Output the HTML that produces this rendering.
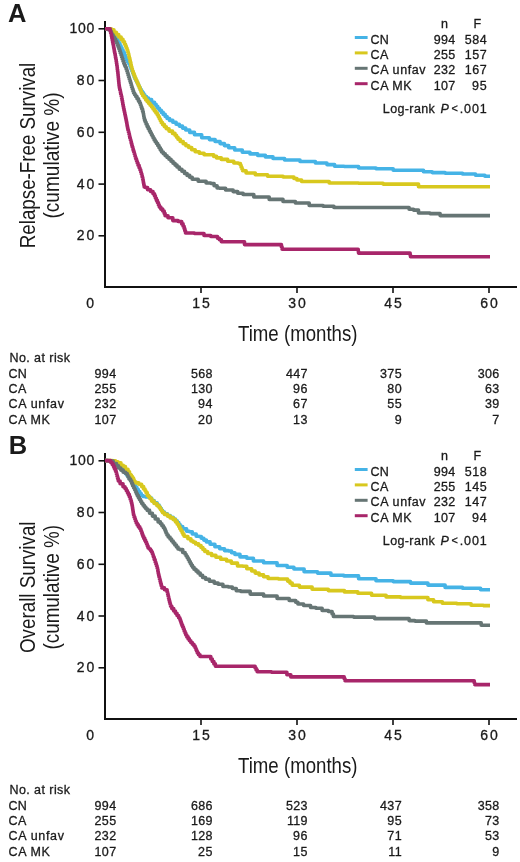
<!DOCTYPE html>
<html><head><meta charset="utf-8"><title>Kaplan-Meier</title>
<style>
html,body{margin:0;padding:0;background:#fff;}
body{width:520px;height:862px;overflow:hidden;font-family:"Liberation Sans",sans-serif;}
svg{display:block;}
svg text{font-family:"Liberation Sans",sans-serif;fill:#1a1a1a;}
svg{will-change:transform;}
svg text.s{stroke:#1a1a1a;stroke-width:0.3px;}
</style></head><body>
<svg width="520" height="862" viewBox="0 0 520 862">
<rect width="520" height="862" fill="#fff"/>
<text x="8.0" y="22.0" font-size="25.5" font-weight="bold">A</text>
<path d="M105,21 V287 H517" fill="none" stroke="#111" stroke-width="2" transform="translate(0,0.0)"/>
<line x1="98.5" y1="28.8" x2="105" y2="28.8" stroke="#111" stroke-width="1.6"/>
<text x="94.3" y="33.4" font-size="14.0" text-anchor="end" textLength="24.8" lengthAdjust="spacing" class="s">100</text>
<line x1="98.5" y1="80.5" x2="105" y2="80.5" stroke="#111" stroke-width="1.6"/>
<text x="94.3" y="85.1" font-size="14.0" text-anchor="end" textLength="17.6" lengthAdjust="spacing" class="s">80</text>
<line x1="98.5" y1="132.3" x2="105" y2="132.3" stroke="#111" stroke-width="1.6"/>
<text x="94.3" y="136.9" font-size="14.0" text-anchor="end" textLength="17.6" lengthAdjust="spacing" class="s">60</text>
<line x1="98.5" y1="184.1" x2="105" y2="184.1" stroke="#111" stroke-width="1.6"/>
<text x="94.3" y="188.7" font-size="14.0" text-anchor="end" textLength="17.6" lengthAdjust="spacing" class="s">40</text>
<line x1="98.5" y1="235.8" x2="105" y2="235.8" stroke="#111" stroke-width="1.6"/>
<text x="94.3" y="240.4" font-size="14.0" text-anchor="end" textLength="17.6" lengthAdjust="spacing" class="s">20</text>
<text x="94.0" y="308.2" font-size="14.0" text-anchor="end" class="s">0</text>
<line x1="201.0" y1="287.0" x2="201.0" y2="293.0" stroke="#111" stroke-width="1.6"/>
<text x="201.0" y="308.2" font-size="14.0" text-anchor="middle" textLength="17.4" lengthAdjust="spacing" class="s">15</text>
<line x1="297.0" y1="287.0" x2="297.0" y2="293.0" stroke="#111" stroke-width="1.6"/>
<text x="297.0" y="308.2" font-size="14.0" text-anchor="middle" textLength="17.4" lengthAdjust="spacing" class="s">30</text>
<line x1="393.0" y1="287.0" x2="393.0" y2="293.0" stroke="#111" stroke-width="1.6"/>
<text x="393.0" y="308.2" font-size="14.0" text-anchor="middle" textLength="17.4" lengthAdjust="spacing" class="s">45</text>
<line x1="489.0" y1="287.0" x2="489.0" y2="293.0" stroke="#111" stroke-width="1.6"/>
<text x="489.0" y="308.2" font-size="14.0" text-anchor="middle" textLength="17.4" lengthAdjust="spacing" class="s">60</text>
<text x="238.0" y="341.0" font-size="21.5" textLength="119.5" lengthAdjust="spacingAndGlyphs">Time (months)</text>
<text transform="translate(35.3,248.2) rotate(-90)" font-size="21.5" textLength="185.5" lengthAdjust="spacingAndGlyphs">Relapse-Free Survival</text>
<text transform="translate(58.8,218.6) rotate(-90)" font-size="21.5" textLength="126.3" lengthAdjust="spacingAndGlyphs">(cumulative %)</text>
<polyline points="105.0,28.8 110.0,29.0 110.8,29.0 110.8,31.0 112.2,31.0 112.2,33.0 113.0,33.0 113.9,33.0 113.9,35.5 115.6,35.5 115.6,38.0 116.5,38.0 117.0,38.0 117.0,39.8 118.0,39.8 118.0,41.7 119.0,41.7 119.0,43.5 119.5,43.5 120.0,43.5 120.0,45.7 121.0,45.7 121.0,47.8 122.0,47.8 122.0,50.0 122.5,50.0 123.1,50.0 123.1,52.5 124.4,52.5 124.4,55.0 125.0,55.0 125.5,55.0 125.5,57.5 126.5,57.5 126.5,60.0 127.0,60.0 127.6,60.0 127.6,62.0 128.9,62.0 128.9,64.0 129.5,64.0 130.0,64.0 130.0,66.5 131.0,66.5 131.0,69.0 131.5,69.0 131.9,69.0 131.9,71.0 132.6,71.0 132.6,73.0 133.4,73.0 133.4,75.0 134.1,75.0 134.1,77.0 134.5,77.0 134.9,77.0 134.9,78.8 135.8,78.8 135.8,80.5 136.7,80.5 136.7,82.2 137.6,82.2 137.6,84.0 138.0,84.0 138.4,84.0 138.4,85.8 139.3,85.8 139.3,87.5 140.2,87.5 140.2,89.2 141.1,89.2 141.1,91.0 141.5,91.0 142.2,91.0 142.2,92.8 143.5,92.8 143.5,94.7 144.8,94.7 144.8,96.5 145.5,96.5 146.5,96.5 146.5,98.0 148.5,98.0 148.5,99.5 149.5,99.5 151.6,99.5 151.6,102.3 153.7,102.3 154.5,102.3 154.5,104.3 156.1,104.3 156.1,106.3 157.7,106.3 157.7,108.3 158.5,108.3 159.4,108.3 159.4,110.3 161.3,110.3 161.3,112.4 163.2,112.4 163.2,114.4 165.2,114.4 165.2,116.5 167.1,116.5 167.1,118.5 168.0,118.5 169.6,118.5 169.6,120.4 172.8,120.4 172.8,122.3 176.1,122.3 176.1,124.2 177.7,124.2 179.3,124.2 179.3,126.1 182.5,126.1 182.5,128.1 185.7,128.1 185.7,130.0 187.3,130.0 189.7,130.0 189.7,132.4 194.5,132.4 194.5,134.8 196.9,134.8 201.7,134.8 201.7,137.7 206.5,137.7 209.4,137.7 209.4,139.6 215.1,139.6 215.1,141.5 218.0,141.5 220.1,141.5 220.1,143.6 224.4,143.6 224.4,145.6 228.7,145.6 228.7,147.7 230.8,147.7 234.7,147.7 234.7,150.0 242.3,150.0 242.3,152.3 246.2,152.3 250.0,152.3 250.0,153.9 257.7,153.9 257.7,155.4 261.5,155.4 265.4,155.4 265.4,156.9 273.0,156.9 273.0,158.5 276.9,158.5 284.6,158.5 284.6,160.0 292.3,160.0 300.0,160.0 300.0,161.5 307.7,161.5 315.4,161.5 315.4,163.0 323.0,163.0 326.9,163.0 326.9,164.6 334.6,164.6 334.6,166.2 338.5,166.2 344.2,166.2 344.2,166.5 350.0,166.5 358.6,166.5 358.6,168.0 367.3,168.0 376.0,168.0 376.0,168.8 384.6,168.8 393.2,168.8 393.2,170.3 401.9,170.3 419.2,170.3 423.5,170.3 423.5,171.7 427.9,171.7 432.2,171.7 432.2,172.6 436.5,172.6 445.1,172.6 445.1,173.2 453.8,173.2 462.5,173.2 462.5,174.0 471.1,174.0 475.5,174.0 475.5,175.2 479.8,175.2 484.9,175.2 484.9,176.3 490.0,176.3" fill="none" stroke="#45b3e6" stroke-width="3.6" stroke-linejoin="round" stroke-linecap="butt"/>
<polyline points="105.0,28.8 110.0,28.8 111.3,28.8 111.3,29.8 112.7,29.8 113.9,29.8 113.9,32.2 116.3,32.2 116.3,34.6 117.5,34.6 118.7,34.6 118.7,37.0 121.1,37.0 121.1,39.4 122.3,39.4 123.0,39.4 123.0,41.8 124.5,41.8 124.5,44.2 125.2,44.2 125.5,44.2 125.5,46.1 126.2,46.1 126.2,48.0 127.0,48.0 127.0,50.0 127.7,50.0 127.7,51.9 128.0,51.9 128.2,51.9 128.2,53.9 128.8,53.9 128.8,56.0 129.2,56.0 129.2,58.0 129.8,58.0 129.8,60.0 130.0,60.0 130.2,60.0 130.2,62.2 130.8,62.2 130.8,64.5 131.2,64.5 131.2,66.8 131.8,66.8 131.8,69.0 132.0,69.0 132.4,69.0 132.4,71.2 133.2,71.2 133.2,73.5 134.1,73.5 134.1,75.8 134.9,75.8 134.9,78.0 135.3,78.0 135.8,78.0 135.8,80.0 136.7,80.0 136.7,82.0 137.6,82.0 137.6,84.0 138.5,84.0 138.5,86.0 139.0,86.0 139.4,86.0 139.4,87.9 140.1,87.9 140.1,89.8 140.8,89.8 140.8,91.6 141.5,91.6 141.5,93.5 141.9,93.5 142.7,93.5 142.7,95.7 144.2,95.7 144.2,97.8 145.7,97.8 145.7,100.0 146.5,100.0 147.2,100.0 147.2,101.8 148.7,101.8 148.7,103.5 150.1,103.5 150.1,105.2 151.6,105.2 151.6,107.0 152.3,107.0 153.0,107.0 153.0,109.0 154.4,109.0 154.4,111.0 155.9,111.0 155.9,113.0 157.3,113.0 157.3,115.0 158.0,115.0 158.4,115.0 158.4,116.9 159.3,116.9 159.3,118.8 160.2,118.8 160.2,120.6 161.1,120.6 161.1,122.5 161.5,122.5 162.5,122.5 162.5,124.6 164.4,124.6 164.4,126.7 166.3,126.7 166.3,128.8 167.3,128.8 169.0,128.8 169.0,131.1 172.5,131.1 172.5,133.4 174.2,133.4 175.0,133.4 175.0,135.3 176.5,135.3 176.5,137.3 178.0,137.3 178.0,139.2 178.8,139.2 180.2,139.2 180.2,141.5 183.2,141.5 183.2,143.8 184.6,143.8 185.9,143.8 185.9,145.7 188.7,145.7 188.7,147.5 190.0,147.5 191.7,147.5 191.7,149.7 195.2,149.7 195.2,151.8 196.9,151.8 199.3,151.8 199.3,153.3 204.1,153.3 204.1,154.8 206.5,154.8 212.3,154.8 213.7,154.8 213.7,156.4 216.6,156.4 216.6,157.9 218.0,157.9 221.3,157.9 221.3,159.4 224.6,159.4 227.7,159.4 227.7,161.2 233.8,161.2 233.8,163.0 236.9,163.0 238.4,163.0 238.4,163.5 240.0,163.5 240.4,163.5 240.4,165.3 241.1,165.3 241.1,167.2 241.9,167.2 241.9,169.0 242.6,169.0 242.6,170.8 243.0,170.8 246.1,170.8 246.1,173.0 249.2,173.0 255.3,173.0 255.3,174.8 261.5,174.8 267.6,174.8 267.6,176.3 273.8,176.3 283.1,176.3 283.1,177.0 292.3,177.0 293.9,177.0 293.9,178.5 296.9,178.5 296.9,180.0 298.5,180.0 301.6,180.0 301.6,181.5 304.6,181.5 323.0,181.5 329.2,181.5 329.2,183.0 335.4,183.0 358.5,183.0 358.5,183.3 381.7,183.3 383.1,183.3 383.1,184.1 384.6,184.1 417.8,184.1 418.5,184.1 418.5,186.7 419.2,186.7 490.0,186.7" fill="none" stroke="#d8c81e" stroke-width="3.6" stroke-linejoin="round" stroke-linecap="butt"/>
<polyline points="105.0,28.8 107.5,28.8 107.5,29.5 110.0,29.5 110.4,29.5 110.4,31.2 111.1,31.2 111.1,32.9 111.8,32.9 111.8,34.6 112.2,34.6 112.9,34.6 112.9,36.8 114.2,36.8 114.2,39.1 115.6,39.1 115.6,41.3 116.3,41.3 116.7,41.3 116.7,43.2 117.4,43.2 117.4,45.1 118.2,45.1 118.2,47.1 118.9,47.1 118.9,49.0 119.3,49.0 119.6,49.0 119.6,50.9 120.2,50.9 120.2,52.9 120.9,52.9 120.9,54.8 121.5,54.8 121.5,56.7 121.8,56.7 122.2,56.7 122.2,59.0 123.0,59.0 123.0,61.2 123.8,61.2 123.8,63.5 124.2,63.5 124.6,63.5 124.6,65.4 125.4,65.4 125.4,67.3 126.2,67.3 126.2,69.2 126.6,69.2 126.9,69.2 126.9,71.2 127.5,71.2 127.5,73.2 128.1,73.2 128.1,75.2 128.7,75.2 128.7,77.2 129.3,77.2 129.3,79.2 129.6,79.2 129.9,79.2 129.9,81.1 130.5,81.1 130.5,83.0 131.1,83.0 131.1,85.0 131.6,85.0 131.6,86.9 132.2,86.9 132.2,88.8 132.5,88.8 132.9,88.8 132.9,90.9 133.6,90.9 133.6,93.0 134.0,93.0 134.6,93.0 134.6,94.8 135.7,94.8 135.7,96.5 136.3,96.5 137.0,96.5 137.0,98.8 138.5,98.8 138.5,101.2 139.2,101.2 139.7,101.2 139.7,103.3 140.2,103.3 140.5,103.3 140.5,105.2 141.1,105.2 141.1,107.1 141.8,107.1 141.8,109.0 142.1,109.0 142.6,109.0 142.6,111.5 143.1,111.5 143.2,111.5 143.2,113.2 143.5,113.2 143.5,115.0 143.8,115.0 143.8,116.8 144.1,116.8 144.1,118.5 144.2,118.5 144.6,118.5 144.6,120.4 145.3,120.4 145.3,122.3 146.1,122.3 146.1,124.2 146.5,124.2 147.1,124.2 147.1,126.5 148.2,126.5 148.2,128.8 149.4,128.8 149.4,131.1 150.0,131.1 150.4,131.1 150.4,132.8 151.3,132.8 151.3,134.6 152.2,134.6 152.2,136.3 153.1,136.3 153.1,138.1 153.5,138.1 154.1,138.1 154.1,139.9 155.2,139.9 155.2,141.7 156.4,141.7 156.4,143.5 157.0,143.5 157.7,143.5 157.7,145.6 159.0,145.6 159.0,147.8 160.3,147.8 160.3,149.9 161.6,149.9 161.6,152.0 162.3,152.0 163.3,152.0 163.3,153.8 165.2,153.8 165.2,155.7 167.1,155.7 167.1,157.5 169.0,157.5 169.0,159.3 170.0,159.3 171.0,159.3 171.0,161.2 173.0,161.2 173.0,163.2 175.0,163.2 175.0,165.1 177.0,165.1 177.0,167.0 178.0,167.0 179.3,167.0 179.3,169.2 181.9,169.2 181.9,171.3 184.5,171.3 184.5,173.5 185.8,173.5 187.1,173.5 187.1,175.4 189.7,175.4 189.7,177.3 192.2,177.3 192.2,179.2 193.5,179.2 198.2,179.2 198.2,181.2 203.0,181.2 206.1,181.2 206.1,183.0 209.2,183.0 210.9,183.0 210.9,183.5 212.7,183.5 214.1,183.5 214.1,185.8 217.1,185.8 217.1,188.0 218.5,188.0 219.4,188.0 219.4,188.3 220.4,188.3 225.6,188.3 225.6,190.0 230.8,190.0 233.1,190.0 233.1,191.6 237.7,191.6 237.7,193.2 240.0,193.2 243.1,193.2 243.1,194.5 246.2,194.5 253.8,194.5 253.8,197.0 261.5,197.0 269.2,197.0 269.2,199.4 276.9,199.4 283.0,199.4 283.0,201.5 289.2,201.5 295.4,201.5 295.4,203.0 301.5,203.0 309.2,203.0 309.2,205.5 317.0,205.5 323.1,205.5 323.1,206.2 329.2,206.2 333.9,206.2 333.9,207.5 338.5,207.5 407.7,207.5 409.1,207.5 409.1,209.2 410.6,209.2 413.5,209.2 413.5,210.1 416.3,210.1 418.5,210.1 418.5,213.0 420.7,213.0 430.0,213.0 430.0,213.6 439.4,213.6 440.1,213.6 440.1,215.6 440.9,215.6 490.0,215.6" fill="none" stroke="#667574" stroke-width="3.6" stroke-linejoin="round" stroke-linecap="butt"/>
<polyline points="105.0,28.8 109.8,28.8 110.0,28.8 110.0,30.8 110.3,30.8 110.5,30.8 110.5,32.7 111.0,32.7 111.0,34.6 111.5,34.6 111.5,36.5 111.7,36.5 111.9,36.5 111.9,38.4 112.3,38.4 112.3,40.4 112.6,40.4 112.6,42.3 113.0,42.3 113.0,44.2 113.2,44.2 113.4,44.2 113.4,46.1 113.7,46.1 113.7,48.0 114.1,48.0 114.1,50.0 114.4,50.0 114.4,51.9 114.6,51.9 114.8,51.9 114.8,53.8 115.2,53.8 115.2,55.8 115.5,55.8 115.5,57.7 115.9,57.7 115.9,59.6 116.1,59.6 116.2,59.6 116.2,61.5 116.5,61.5 116.5,63.5 116.8,63.5 116.8,65.4 117.1,65.4 117.1,67.3 117.2,67.3 117.3,67.3 117.3,69.5 117.6,69.5 117.6,71.8 117.9,71.8 117.9,74.0 118.0,74.0 118.1,74.0 118.1,76.0 118.3,76.0 118.3,78.0 118.5,78.0 118.5,80.0 118.7,80.0 118.7,82.0 118.9,82.0 118.9,84.0 119.1,84.0 119.1,86.0 119.2,86.0 119.4,86.0 119.4,88.0 119.8,88.0 119.8,90.0 120.3,90.0 120.3,92.0 120.5,92.0 120.7,92.0 120.7,94.2 121.2,94.2 121.2,96.3 121.7,96.3 121.7,98.5 121.9,98.5 122.1,98.5 122.1,100.5 122.5,100.5 122.5,102.5 122.8,102.5 122.8,104.5 123.2,104.5 123.2,106.5 123.6,106.5 123.6,108.5 123.8,108.5 124.0,108.5 124.0,110.4 124.4,110.4 124.4,112.3 124.8,112.3 124.8,114.2 125.2,114.2 125.2,116.1 125.6,116.1 125.6,118.0 125.8,118.0 126.0,118.0 126.0,120.0 126.4,120.0 126.4,122.0 126.8,122.0 126.8,124.0 127.1,124.0 127.1,126.0 127.5,126.0 127.5,128.0 127.7,128.0 127.9,128.0 127.9,130.0 128.4,130.0 128.4,132.0 128.9,132.0 128.9,134.0 129.4,134.0 129.4,136.0 129.6,136.0 129.8,136.0 129.8,137.9 130.3,137.9 130.3,139.8 130.8,139.8 130.8,141.6 131.3,141.6 131.3,143.5 131.5,143.5 131.8,143.5 131.8,145.2 132.2,145.2 132.2,147.0 132.8,147.0 132.8,148.8 133.2,148.8 133.2,150.5 133.5,150.5 133.8,150.5 133.8,152.2 134.3,152.2 134.3,154.0 134.8,154.0 134.8,155.8 135.3,155.8 135.3,157.5 135.6,157.5 135.9,157.5 135.9,159.3 136.6,159.3 136.6,161.2 137.2,161.2 137.2,163.0 137.5,163.0 138.0,163.0 138.0,165.3 139.1,165.3 139.1,167.7 139.6,167.7 139.9,167.7 139.9,169.8 140.7,169.8 140.7,172.0 141.0,172.0 141.2,172.0 141.2,173.8 141.8,173.8 141.8,175.5 142.2,175.5 142.2,177.3 142.5,177.3 142.7,177.3 142.7,179.2 143.1,179.2 143.1,181.1 143.4,181.1 143.4,183.1 143.8,183.1 143.8,185.0 144.2,185.0 144.2,186.9 144.4,186.9 145.2,186.9 145.2,187.5 146.0,187.5 147.6,187.5 147.6,189.8 149.2,189.8 150.6,189.8 150.6,191.5 152.0,191.5 153.0,191.5 153.0,193.7 154.0,193.7 154.5,193.7 154.5,195.9 155.4,195.9 155.4,198.2 156.4,198.2 156.4,200.4 156.9,200.4 157.4,200.4 157.4,202.6 158.4,202.6 158.4,204.9 159.3,204.9 159.3,207.1 159.8,207.1 160.8,207.1 160.8,209.1 162.7,209.1 162.7,211.0 163.7,211.0 164.2,211.0 164.2,213.4 165.1,213.4 165.1,215.8 165.6,215.8 168.0,215.8 168.0,217.7 170.4,217.7 172.8,217.7 172.8,220.6 175.2,220.6 178.1,220.6 178.1,221.5 181.0,221.5 181.7,221.5 181.7,223.9 183.1,223.9 183.1,226.3 183.8,226.3 184.1,226.3 184.1,228.5 184.8,228.5 184.8,230.8 185.5,230.8 185.5,233.0 185.8,233.0 194.4,233.0 194.4,233.5 203.0,233.5 204.0,233.5 204.0,235.5 205.0,235.5 210.8,235.5 210.8,236.5 216.5,236.5 217.5,236.5 217.5,238.2 219.4,238.2 219.4,239.8 220.4,239.8 221.4,239.8 221.4,241.7 222.3,241.7 244.0,241.7 244.5,241.7 244.5,244.6 245.0,244.6 281.0,244.6 281.4,244.6 281.4,246.9 282.1,246.9 282.1,249.2 282.5,249.2 358.0,249.2 358.2,249.2 358.2,251.1 358.5,251.1 358.5,253.1 358.7,253.1 410.0,253.1 410.1,253.1 410.1,254.9 410.5,254.9 410.5,256.8 410.6,256.8 490.0,256.8" fill="none" stroke="#a8266a" stroke-width="3.6" stroke-linejoin="round" stroke-linecap="butt"/>
<text x="441.0" y="28.0" font-size="12.5" class="s">n</text>
<text x="473.5" y="28.0" font-size="12.5" class="s">F</text>
<line x1="354.8" y1="37.5" x2="367.6" y2="37.5" stroke="#45b3e6" stroke-width="3"/>
<text x="370.6" y="43.5" font-size="12.5" textLength="18.1" lengthAdjust="spacing" class="s">CN</text>
<text x="455.3" y="43.5" font-size="12.5" text-anchor="end" textLength="21.5" lengthAdjust="spacing" class="s">994</text>
<text x="486.8" y="43.5" font-size="12.5" text-anchor="end" textLength="22.1" lengthAdjust="spacing" class="s">584</text>
<line x1="354.8" y1="52.9" x2="367.6" y2="52.9" stroke="#d8c81e" stroke-width="3"/>
<text x="370.6" y="58.9" font-size="12.5" textLength="17.7" lengthAdjust="spacing" class="s">CA</text>
<text x="455.3" y="58.9" font-size="12.5" text-anchor="end" textLength="21.5" lengthAdjust="spacing" class="s">255</text>
<text x="486.8" y="58.9" font-size="12.5" text-anchor="end" textLength="22.1" lengthAdjust="spacing" class="s">157</text>
<line x1="354.8" y1="68.3" x2="367.6" y2="68.3" stroke="#667574" stroke-width="3"/>
<text x="370.6" y="74.3" font-size="12.5" textLength="55.0" lengthAdjust="spacing" class="s">CA unfav</text>
<text x="455.3" y="74.3" font-size="12.5" text-anchor="end" textLength="21.5" lengthAdjust="spacing" class="s">232</text>
<text x="486.8" y="74.3" font-size="12.5" text-anchor="end" textLength="22.1" lengthAdjust="spacing" class="s">167</text>
<line x1="354.8" y1="83.7" x2="367.6" y2="83.7" stroke="#a8266a" stroke-width="3"/>
<text x="370.6" y="89.7" font-size="12.5" textLength="41.0" lengthAdjust="spacing" class="s">CA MK</text>
<text x="455.3" y="89.7" font-size="12.5" text-anchor="end" textLength="21.5" lengthAdjust="spacing" class="s">107</text>
<text x="486.8" y="89.7" font-size="12.5" text-anchor="end" textLength="14.7" lengthAdjust="spacing" class="s">95</text>
<text x="382.8" y="112.5" font-size="12.5" textLength="52.0" lengthAdjust="spacing" class="s">Log-rank</text>
<text class="s" x="440.6" y="112.5" font-size="12.5" font-style="italic">P</text>
<text x="451.6" y="112.2" font-size="10.8" class="s">&lt;</text>
<text x="486.6" y="112.5" font-size="12.5" text-anchor="end" textLength="26.8" lengthAdjust="spacing" class="s">.001</text>
<text x="9.5" y="361.8" font-size="12.5" textLength="60.5" lengthAdjust="spacing" class="s">No. at risk</text>
<text x="8.6" y="377.6" font-size="12.5" textLength="18.1" lengthAdjust="spacing" class="s">CN</text>
<text x="116.1" y="377.6" font-size="12.5" text-anchor="end" textLength="21.5" lengthAdjust="spacing" class="s">994</text>
<text x="212.4" y="377.6" font-size="12.5" text-anchor="end" textLength="21.5" lengthAdjust="spacing" class="s">568</text>
<text x="307.4" y="377.6" font-size="12.5" text-anchor="end" textLength="21.5" lengthAdjust="spacing" class="s">447</text>
<text x="401.6" y="377.6" font-size="12.5" text-anchor="end" textLength="21.5" lengthAdjust="spacing" class="s">375</text>
<text x="499.3" y="377.6" font-size="12.5" text-anchor="end" textLength="21.5" lengthAdjust="spacing" class="s">306</text>
<text x="8.6" y="393.0" font-size="12.5" textLength="17.8" lengthAdjust="spacing" class="s">CA</text>
<text x="116.1" y="393.0" font-size="12.5" text-anchor="end" textLength="21.5" lengthAdjust="spacing" class="s">255</text>
<text x="212.4" y="393.0" font-size="12.5" text-anchor="end" textLength="21.5" lengthAdjust="spacing" class="s">130</text>
<text x="307.4" y="393.0" font-size="12.5" text-anchor="end" textLength="14.3" lengthAdjust="spacing" class="s">96</text>
<text x="401.6" y="393.0" font-size="12.5" text-anchor="end" textLength="14.3" lengthAdjust="spacing" class="s">80</text>
<text x="499.3" y="393.0" font-size="12.5" text-anchor="end" textLength="14.3" lengthAdjust="spacing" class="s">63</text>
<text x="8.6" y="408.4" font-size="12.5" textLength="55.3" lengthAdjust="spacing" class="s">CA unfav</text>
<text x="116.1" y="408.4" font-size="12.5" text-anchor="end" textLength="21.5" lengthAdjust="spacing" class="s">232</text>
<text x="212.4" y="408.4" font-size="12.5" text-anchor="end" textLength="14.3" lengthAdjust="spacing" class="s">94</text>
<text x="307.4" y="408.4" font-size="12.5" text-anchor="end" textLength="14.3" lengthAdjust="spacing" class="s">67</text>
<text x="401.6" y="408.4" font-size="12.5" text-anchor="end" textLength="14.3" lengthAdjust="spacing" class="s">55</text>
<text x="499.3" y="408.4" font-size="12.5" text-anchor="end" textLength="14.3" lengthAdjust="spacing" class="s">39</text>
<text x="8.6" y="423.8" font-size="12.5" textLength="41.2" lengthAdjust="spacing" class="s">CA MK</text>
<text x="116.1" y="423.8" font-size="12.5" text-anchor="end" textLength="21.5" lengthAdjust="spacing" class="s">107</text>
<text x="212.4" y="423.8" font-size="12.5" text-anchor="end" textLength="14.3" lengthAdjust="spacing" class="s">20</text>
<text x="307.4" y="423.8" font-size="12.5" text-anchor="end" textLength="14.3" lengthAdjust="spacing" class="s">13</text>
<text x="401.6" y="423.8" font-size="12.5" text-anchor="end" textLength="7.2" lengthAdjust="spacing" class="s">9</text>
<text x="499.3" y="423.8" font-size="12.5" text-anchor="end" textLength="7.2" lengthAdjust="spacing" class="s">7</text>
<text x="8.8" y="453.6" font-size="25.5" font-weight="bold">B</text>
<path d="M105,21 V287 H517" fill="none" stroke="#111" stroke-width="2" transform="translate(0,432.0)"/>
<line x1="98.5" y1="460.8" x2="105" y2="460.8" stroke="#111" stroke-width="1.6"/>
<text x="94.3" y="465.4" font-size="14.0" text-anchor="end" textLength="24.8" lengthAdjust="spacing" class="s">100</text>
<line x1="98.5" y1="512.5" x2="105" y2="512.5" stroke="#111" stroke-width="1.6"/>
<text x="94.3" y="517.1" font-size="14.0" text-anchor="end" textLength="17.6" lengthAdjust="spacing" class="s">80</text>
<line x1="98.5" y1="564.3" x2="105" y2="564.3" stroke="#111" stroke-width="1.6"/>
<text x="94.3" y="568.9" font-size="14.0" text-anchor="end" textLength="17.6" lengthAdjust="spacing" class="s">60</text>
<line x1="98.5" y1="616.0" x2="105" y2="616.0" stroke="#111" stroke-width="1.6"/>
<text x="94.3" y="620.6" font-size="14.0" text-anchor="end" textLength="17.6" lengthAdjust="spacing" class="s">40</text>
<line x1="98.5" y1="667.8" x2="105" y2="667.8" stroke="#111" stroke-width="1.6"/>
<text x="94.3" y="672.4" font-size="14.0" text-anchor="end" textLength="17.6" lengthAdjust="spacing" class="s">20</text>
<text x="94.0" y="740.2" font-size="14.0" text-anchor="end" class="s">0</text>
<line x1="201.0" y1="719.0" x2="201.0" y2="725.0" stroke="#111" stroke-width="1.6"/>
<text x="201.0" y="740.2" font-size="14.0" text-anchor="middle" textLength="17.4" lengthAdjust="spacing" class="s">15</text>
<line x1="297.0" y1="719.0" x2="297.0" y2="725.0" stroke="#111" stroke-width="1.6"/>
<text x="297.0" y="740.2" font-size="14.0" text-anchor="middle" textLength="17.4" lengthAdjust="spacing" class="s">30</text>
<line x1="393.0" y1="719.0" x2="393.0" y2="725.0" stroke="#111" stroke-width="1.6"/>
<text x="393.0" y="740.2" font-size="14.0" text-anchor="middle" textLength="17.4" lengthAdjust="spacing" class="s">45</text>
<line x1="489.0" y1="719.0" x2="489.0" y2="725.0" stroke="#111" stroke-width="1.6"/>
<text x="489.0" y="740.2" font-size="14.0" text-anchor="middle" textLength="17.4" lengthAdjust="spacing" class="s">60</text>
<text x="238.0" y="773.0" font-size="21.5" textLength="119.5" lengthAdjust="spacingAndGlyphs">Time (months)</text>
<text transform="translate(35.3,653.0) rotate(-90)" font-size="21.5" textLength="131.5" lengthAdjust="spacingAndGlyphs">Overall Survival</text>
<text transform="translate(58.8,649.5) rotate(-90)" font-size="21.5" textLength="124.5" lengthAdjust="spacingAndGlyphs">(cumulative %)</text>
<polyline points="105.0,460.6 108.0,460.6 108.0,461.0 111.0,461.0 113.2,461.0 113.2,463.5 115.4,463.5 116.6,463.5 116.6,465.2 118.8,465.2 118.8,467.0 120.0,467.0 121.1,467.0 121.1,469.2 123.3,469.2 123.3,471.5 124.4,471.5 125.4,471.5 125.4,473.8 127.3,473.8 127.3,476.0 128.3,476.0 129.2,476.0 129.2,478.5 131.1,478.5 131.1,481.0 132.0,481.0 132.7,481.0 132.7,483.0 134.0,483.0 134.0,485.0 135.3,485.0 135.3,487.0 136.0,487.0 136.8,487.0 136.8,489.2 138.2,489.2 138.2,491.5 139.0,491.5 139.8,491.5 139.8,493.5 141.2,493.5 141.2,495.5 142.0,495.5 143.0,495.5 143.0,496.5 144.0,496.5 145.5,496.5 145.5,497.0 147.0,497.0 148.9,497.0 149.7,497.0 149.7,498.0 150.5,498.0 151.6,498.0 151.6,500.5 152.7,500.5 154.1,500.5 154.1,502.8 157.1,502.8 157.1,505.0 158.5,505.0 159.1,505.0 159.1,506.8 160.2,506.8 160.2,508.5 161.4,508.5 161.4,510.2 162.5,510.2 162.5,512.0 163.1,512.0 164.5,512.0 164.5,513.8 167.4,513.8 167.4,515.5 168.8,515.5 170.2,515.5 170.2,517.2 173.2,517.2 173.2,519.0 174.6,519.0 175.5,519.0 175.5,520.8 177.2,520.8 177.2,522.5 178.1,522.5 178.8,522.5 178.8,524.5 180.1,524.5 180.1,526.5 180.8,526.5 182.7,526.5 182.7,528.9 186.6,528.9 186.6,531.3 188.5,531.3 189.4,531.3 189.4,531.7 190.4,531.7 192.3,531.7 192.3,534.0 196.2,534.0 196.2,536.2 198.1,536.2 200.0,536.5 201.3,536.5 201.3,538.3 203.8,538.3 203.8,540.1 206.4,540.1 206.4,541.9 207.7,541.9 210.1,541.9 210.1,544.3 214.9,544.3 214.9,546.7 217.3,546.7 219.7,546.7 219.7,548.7 224.5,548.7 224.5,550.6 226.9,550.6 228.4,550.6 228.4,551.0 230.0,551.0 231.6,551.0 231.6,552.7 234.9,552.7 234.9,554.4 236.5,554.4 240.0,554.4 240.0,556.9 243.5,556.9 246.8,556.9 246.8,558.3 250.0,558.3 253.4,558.3 253.4,561.0 256.9,561.0 263.6,561.0 263.6,562.8 270.4,562.8 277.1,562.8 277.1,565.5 283.8,565.5 287.2,565.5 287.2,567.2 293.9,567.2 293.9,569.0 297.3,569.0 304.1,569.0 304.1,571.7 310.8,571.7 317.5,571.7 317.5,573.1 324.2,573.1 330.9,573.1 330.9,575.2 337.7,575.2 343.9,575.2 343.9,575.9 350.0,575.9 358.6,575.9 358.6,578.7 367.3,578.7 376.0,578.7 376.0,580.8 384.6,580.8 393.2,580.8 393.2,581.6 401.9,581.6 410.5,581.6 410.5,583.1 419.2,583.1 427.9,583.1 427.9,585.1 436.5,585.1 445.1,585.1 445.1,587.4 453.8,587.4 462.5,587.4 462.5,588.3 471.1,588.3 480.6,588.3 480.6,589.7 490.0,589.7" fill="none" stroke="#45b3e6" stroke-width="3.6" stroke-linejoin="round" stroke-linecap="butt"/>
<polyline points="105.0,460.6 111.5,460.6 113.8,460.8 115.5,460.8 115.5,461.9 117.3,461.9 118.0,461.9 118.0,462.7 118.7,462.7 120.9,462.7 120.9,465.4 123.1,465.4 123.3,465.4 123.3,466.5 123.5,466.5 125.4,466.5 125.4,469.4 127.3,469.4 128.0,469.4 128.0,471.8 129.5,471.8 129.5,474.2 130.2,474.2 130.5,474.2 130.5,475.0 130.8,475.0 131.4,475.0 131.4,476.6 132.5,476.6 132.5,478.1 133.1,478.1 133.5,478.1 133.5,479.9 134.2,479.9 134.2,481.7 134.6,481.7 135.8,481.7 135.8,482.9 136.9,482.9 138.8,482.9 138.8,484.3 140.6,484.3 141.6,484.3 141.6,486.6 143.6,486.6 143.6,489.0 144.6,489.0 145.0,489.0 145.0,490.8 145.9,490.8 145.9,492.5 146.3,492.5 147.2,492.5 147.2,495.4 148.1,495.4 148.7,495.4 148.7,496.9 149.9,496.9 149.9,498.5 150.5,498.5 151.6,498.5 151.6,501.1 152.7,501.1 154.1,501.1 154.1,503.5 155.5,503.5 157.0,503.5 157.0,505.8 158.5,505.8 159.1,505.8 159.1,507.6 160.4,507.6 160.4,509.5 161.0,509.5 161.5,509.5 161.5,511.1 162.6,511.1 162.6,512.7 163.1,512.7 164.5,512.7 164.5,514.4 167.4,514.4 167.4,516.1 168.8,516.1 170.2,516.1 170.2,517.9 173.2,517.9 173.2,519.6 174.6,519.6 175.5,519.6 175.5,521.9 177.2,521.9 177.2,524.2 178.1,524.2 178.7,524.2 178.7,526.5 179.8,526.5 179.8,528.8 180.4,528.8 180.9,528.8 180.9,530.6 182.0,530.6 182.0,532.5 183.0,532.5 183.0,534.4 184.1,534.4 184.1,536.2 184.6,536.2 186.5,536.5 187.9,536.5 187.9,538.8 190.9,538.8 190.9,541.0 192.3,541.0 193.2,541.0 193.2,542.3 194.2,542.3 195.6,542.3 195.6,543.9 198.6,543.9 198.6,545.5 200.0,545.5 201.0,545.5 201.0,547.5 202.9,547.5 202.9,549.5 204.8,549.5 204.8,551.5 205.8,551.5 207.7,551.5 207.7,553.5 211.6,553.5 211.6,555.4 213.5,555.4 215.9,555.4 215.9,557.3 220.7,557.3 220.7,559.2 223.1,559.2 226.6,559.2 226.6,561.0 230.0,561.0 231.3,561.0 231.3,563.1 232.7,563.1 237.5,563.1 237.5,566.0 242.3,566.0 243.5,566.3 246.8,566.3 246.8,568.8 250.0,568.8 251.7,568.8 251.7,571.0 255.2,571.0 255.2,573.1 256.9,573.1 259.1,573.1 259.1,574.9 263.6,574.9 263.6,576.7 268.1,576.7 268.1,578.5 270.4,578.5 278.4,578.5 278.4,579.0 286.5,579.0 287.6,579.0 287.6,581.1 289.9,581.1 289.9,583.1 292.2,583.1 292.2,585.2 293.3,585.2 299.4,585.2 299.4,587.1 305.4,587.1 312.1,587.1 312.1,589.2 318.9,589.2 328.3,589.2 328.3,590.6 337.7,590.6 344.4,590.6 344.4,591.9 351.2,591.9 357.8,591.9 357.8,593.2 364.4,593.2 371.6,593.2 371.6,595.2 378.8,595.2 386.1,595.2 386.1,596.9 393.3,596.9 400.5,596.9 400.5,597.5 407.7,597.5 425.0,597.5 427.9,597.5 427.9,599.8 430.8,599.8 433.6,599.8 433.6,601.8 436.5,601.8 442.3,601.8 442.3,603.3 448.1,603.3 456.8,603.3 456.8,603.8 465.4,603.8 471.1,603.8 471.1,605.3 476.9,605.3 483.4,605.3 483.4,605.6 490.0,605.6" fill="none" stroke="#d8c81e" stroke-width="3.6" stroke-linejoin="round" stroke-linecap="butt"/>
<polyline points="105.0,460.6 108.0,460.6 108.0,461.0 111.0,461.0 113.2,461.0 113.2,463.5 115.4,463.5 116.5,463.5 116.5,465.8 118.5,465.8 118.5,468.0 119.6,468.0 120.8,468.0 120.8,470.1 123.2,470.1 123.2,472.3 124.4,472.3 125.7,472.3 125.7,473.5 126.9,473.5 127.2,473.5 127.2,475.3 128.0,475.3 128.0,477.1 128.3,477.1 129.0,477.1 129.0,479.1 130.5,479.1 130.5,481.0 131.2,481.0 131.7,481.0 131.7,483.4 132.6,483.4 132.6,485.8 133.1,485.8 133.6,485.8 133.6,487.7 134.5,487.7 134.5,489.6 135.0,489.6 135.4,489.6 135.4,491.5 136.3,491.5 136.3,493.5 137.2,493.5 137.2,495.4 137.7,495.4 138.3,495.4 138.3,497.4 139.4,497.4 139.4,499.5 140.0,499.5 140.6,499.5 140.6,501.5 141.7,501.5 141.7,503.5 142.3,503.5 143.0,503.5 143.0,505.2 144.3,505.2 144.3,507.0 145.0,507.0 145.8,507.0 145.8,508.7 147.3,508.7 147.3,510.4 148.1,510.4 149.6,510.4 149.6,513.3 151.0,513.3 152.4,513.3 152.4,516.1 153.8,516.1 155.2,516.1 155.2,519.0 156.7,519.0 158.1,519.0 158.1,521.9 159.6,521.9 160.4,521.9 160.4,523.8 161.9,523.8 161.9,525.8 163.4,525.8 163.4,527.7 164.2,527.7 164.6,527.7 164.6,529.5 165.4,529.5 165.4,531.4 166.1,531.4 166.1,533.2 166.9,533.2 166.9,535.0 167.3,535.0 168.2,535.0 168.2,537.0 169.2,537.0 170.0,537.0 170.0,539.0 171.6,539.0 171.6,541.0 173.2,541.0 173.2,543.0 174.0,543.0 174.8,543.0 174.8,545.0 176.4,545.0 176.4,547.0 178.0,547.0 178.0,549.0 178.8,549.0 179.8,549.0 179.8,549.6 180.8,549.6 182.7,549.6 182.7,552.5 184.6,552.5 185.1,552.5 185.1,554.3 186.1,554.3 186.1,556.0 187.2,556.0 187.2,557.8 188.2,557.8 188.2,559.6 188.7,559.6 189.2,559.6 189.2,561.5 190.3,561.5 190.3,563.5 191.4,563.5 191.4,565.4 192.5,565.4 192.5,567.3 193.0,567.3 194.0,567.3 194.0,569.2 196.0,569.2 196.0,571.1 198.0,571.1 198.0,573.0 199.0,573.0 200.2,573.0 200.2,575.2 202.6,575.2 202.6,577.5 203.8,577.5 205.6,577.5 205.6,579.2 207.3,579.2 209.4,579.2 209.4,581.3 211.5,581.3 214.2,581.3 214.2,583.1 216.9,583.1 218.1,583.1 218.1,584.2 219.2,584.2 222.9,584.2 222.9,586.5 226.7,586.5 228.3,586.5 228.3,587.0 230.0,587.0 232.3,587.0 232.3,588.5 234.6,588.5 236.3,588.5 236.3,590.8 238.0,590.8 240.8,590.8 240.8,591.4 243.5,591.4 250.2,591.4 250.2,594.1 256.9,594.1 263.6,594.1 263.6,596.0 270.4,596.0 277.1,596.0 277.1,598.5 283.8,598.5 289.2,598.5 289.2,600.5 294.6,600.5 295.7,600.5 295.7,602.2 297.9,602.2 297.9,604.0 299.0,604.0 303.6,604.0 303.6,605.5 308.3,605.5 310.6,605.5 310.6,607.5 313.0,607.5 315.9,607.5 315.9,608.3 318.9,608.3 322.1,608.3 322.1,610.5 325.4,610.5 328.4,610.5 328.4,611.5 331.5,611.5 332.1,611.5 332.1,614.0 333.4,614.0 333.4,616.5 334.0,616.5 353.6,616.5 353.6,617.1 373.1,617.1 374.6,617.1 374.6,618.6 376.0,618.6 407.7,618.6 409.1,618.6 409.1,620.6 410.6,620.6 414.9,620.6 414.9,621.1 419.2,621.1 426.4,621.1 426.4,622.9 433.6,622.9 479.8,622.9 481.2,622.9 481.2,625.2 482.7,625.2 490.0,625.2" fill="none" stroke="#667574" stroke-width="3.6" stroke-linejoin="round" stroke-linecap="butt"/>
<polyline points="105.0,460.6 110.0,460.6 110.7,460.6 110.7,462.5 112.2,462.5 112.2,464.4 112.9,464.4 113.4,464.4 113.4,466.4 114.3,466.4 114.3,468.4 115.3,468.4 115.3,470.4 115.8,470.4 116.0,470.4 116.0,472.3 116.5,472.3 116.5,474.3 117.0,474.3 117.0,476.2 117.2,476.2 117.6,476.2 117.6,478.6 118.3,478.6 118.3,481.0 118.7,481.0 120.1,481.0 120.1,483.8 121.5,483.8 123.0,483.8 123.0,486.7 124.4,486.7 125.0,486.7 125.0,488.6 126.2,488.6 126.2,490.6 126.8,490.6 127.3,490.6 127.3,492.5 128.3,492.5 128.3,494.4 128.8,494.4 129.3,494.4 129.3,496.8 130.2,496.8 130.2,499.2 130.7,499.2 130.9,499.2 130.9,501.1 131.4,501.1 131.4,503.1 131.9,503.1 131.9,505.0 132.2,505.0 132.3,505.0 132.3,507.0 132.6,507.0 132.6,509.0 132.9,509.0 132.9,511.0 133.2,511.0 133.2,513.0 133.5,513.0 133.5,515.0 133.7,515.0 134.0,515.0 134.0,517.0 134.8,517.0 134.8,519.0 135.4,519.0 135.4,521.0 136.2,521.0 136.2,523.0 136.5,523.0 137.2,523.0 137.2,524.9 138.4,524.9 138.4,526.9 139.8,526.9 139.8,528.8 140.4,528.8 140.8,528.8 140.8,530.7 141.5,530.7 141.5,532.6 142.2,532.6 142.2,534.6 142.9,534.6 142.9,536.5 143.3,536.5 143.8,536.5 143.8,538.4 144.8,538.4 144.8,540.4 145.7,540.4 145.7,542.3 146.2,542.3 146.6,542.3 146.6,544.2 147.3,544.2 147.3,546.1 148.1,546.1 148.1,548.0 148.5,548.0 149.2,548.0 149.2,549.0 150.0,549.0 150.5,549.0 150.5,550.5 151.5,550.5 151.5,552.0 152.0,552.0 152.3,552.0 152.3,553.8 152.9,553.8 152.9,555.5 153.5,555.5 153.5,557.3 153.8,557.3 154.2,557.3 154.2,559.6 155.1,559.6 155.1,562.0 155.5,562.0 155.8,562.0 155.8,563.9 156.4,563.9 156.4,565.8 157.0,565.8 157.0,567.7 157.3,567.7 157.5,567.7 157.5,569.6 157.9,569.6 157.9,571.4 158.2,571.4 158.2,573.3 158.6,573.3 158.6,575.1 159.0,575.1 159.0,577.0 159.2,577.0 159.5,577.0 159.5,579.2 160.1,579.2 160.1,581.4 160.6,581.4 160.6,583.5 161.2,583.5 161.2,585.7 161.8,585.7 161.8,587.9 162.1,587.9 164.5,587.9 164.5,589.8 166.9,589.8 167.1,589.8 167.1,592.0 167.6,592.0 167.6,594.1 168.1,594.1 168.1,596.3 168.6,596.3 168.6,598.5 168.8,598.5 169.1,598.5 169.1,600.4 169.6,600.4 169.6,602.4 170.1,602.4 170.1,604.3 170.6,604.3 170.6,606.2 170.8,606.2 171.8,606.2 171.8,608.6 173.7,608.6 173.7,611.0 174.6,611.0 175.4,611.0 175.4,613.2 177.0,613.2 177.0,615.5 178.6,615.5 178.6,617.7 179.4,617.7 179.8,617.7 179.8,619.6 180.5,619.6 180.5,621.5 181.2,621.5 181.2,623.5 181.9,623.5 181.9,625.4 182.3,625.4 182.7,625.4 182.7,627.3 183.5,627.3 183.5,629.2 184.2,629.2 184.2,631.2 185.0,631.2 185.0,633.1 185.8,633.1 185.8,635.0 186.2,635.0 186.8,635.0 186.8,636.9 188.1,636.9 188.1,638.9 189.4,638.9 189.4,640.8 190.0,640.8 190.8,640.8 190.8,642.5 192.3,642.5 192.3,644.3 193.9,644.3 193.9,646.0 194.7,646.0 195.1,646.0 195.1,647.8 195.8,647.8 195.8,649.5 196.6,649.5 196.6,651.2 197.3,651.2 197.3,653.0 197.7,653.0 198.5,653.0 198.5,654.8 200.0,654.8 200.0,656.5 200.8,656.5 210.0,656.5 210.8,656.5 210.8,659.0 212.3,659.0 212.3,661.5 213.1,661.5 213.9,661.5 213.9,663.9 215.4,663.9 215.4,666.2 216.2,666.2 254.6,666.2 255.1,666.2 255.1,668.0 256.1,668.0 256.1,669.9 257.2,669.9 257.2,671.7 257.7,671.7 271.5,671.7 271.5,672.3 285.4,672.3 286.9,672.3 286.9,674.8 288.5,674.8 290.8,674.8 290.8,676.9 293.1,676.9 343.8,676.9 344.2,676.9 344.2,678.8 345.0,678.8 345.0,680.8 345.4,680.8 474.0,680.8 474.2,680.8 474.2,682.7 474.7,682.7 474.7,684.6 474.9,684.6 490.0,684.6" fill="none" stroke="#a8266a" stroke-width="3.6" stroke-linejoin="round" stroke-linecap="butt"/>
<text x="441.0" y="460.0" font-size="12.5" class="s">n</text>
<text x="473.5" y="460.0" font-size="12.5" class="s">F</text>
<line x1="354.8" y1="469.5" x2="367.6" y2="469.5" stroke="#45b3e6" stroke-width="3"/>
<text x="370.6" y="475.5" font-size="12.5" textLength="18.1" lengthAdjust="spacing" class="s">CN</text>
<text x="455.3" y="475.5" font-size="12.5" text-anchor="end" textLength="21.5" lengthAdjust="spacing" class="s">994</text>
<text x="486.8" y="475.5" font-size="12.5" text-anchor="end" textLength="22.1" lengthAdjust="spacing" class="s">518</text>
<line x1="354.8" y1="484.9" x2="367.6" y2="484.9" stroke="#d8c81e" stroke-width="3"/>
<text x="370.6" y="490.9" font-size="12.5" textLength="17.7" lengthAdjust="spacing" class="s">CA</text>
<text x="455.3" y="490.9" font-size="12.5" text-anchor="end" textLength="21.5" lengthAdjust="spacing" class="s">255</text>
<text x="486.8" y="490.9" font-size="12.5" text-anchor="end" textLength="22.1" lengthAdjust="spacing" class="s">145</text>
<line x1="354.8" y1="500.3" x2="367.6" y2="500.3" stroke="#667574" stroke-width="3"/>
<text x="370.6" y="506.3" font-size="12.5" textLength="55.0" lengthAdjust="spacing" class="s">CA unfav</text>
<text x="455.3" y="506.3" font-size="12.5" text-anchor="end" textLength="21.5" lengthAdjust="spacing" class="s">232</text>
<text x="486.8" y="506.3" font-size="12.5" text-anchor="end" textLength="22.1" lengthAdjust="spacing" class="s">147</text>
<line x1="354.8" y1="515.7" x2="367.6" y2="515.7" stroke="#a8266a" stroke-width="3"/>
<text x="370.6" y="521.7" font-size="12.5" textLength="41.0" lengthAdjust="spacing" class="s">CA MK</text>
<text x="455.3" y="521.7" font-size="12.5" text-anchor="end" textLength="21.5" lengthAdjust="spacing" class="s">107</text>
<text x="486.8" y="521.7" font-size="12.5" text-anchor="end" textLength="14.7" lengthAdjust="spacing" class="s">94</text>
<text x="382.8" y="544.5" font-size="12.5" textLength="52.0" lengthAdjust="spacing" class="s">Log-rank</text>
<text class="s" x="440.6" y="544.5" font-size="12.5" font-style="italic">P</text>
<text x="451.6" y="544.2" font-size="10.8" class="s">&lt;</text>
<text x="486.6" y="544.5" font-size="12.5" text-anchor="end" textLength="26.8" lengthAdjust="spacing" class="s">.001</text>
<text x="9.5" y="793.8" font-size="12.5" textLength="60.5" lengthAdjust="spacing" class="s">No. at risk</text>
<text x="8.6" y="809.6" font-size="12.5" textLength="18.1" lengthAdjust="spacing" class="s">CN</text>
<text x="116.1" y="809.6" font-size="12.5" text-anchor="end" textLength="21.5" lengthAdjust="spacing" class="s">994</text>
<text x="212.4" y="809.6" font-size="12.5" text-anchor="end" textLength="21.5" lengthAdjust="spacing" class="s">686</text>
<text x="307.4" y="809.6" font-size="12.5" text-anchor="end" textLength="21.5" lengthAdjust="spacing" class="s">523</text>
<text x="401.6" y="809.6" font-size="12.5" text-anchor="end" textLength="21.5" lengthAdjust="spacing" class="s">437</text>
<text x="499.3" y="809.6" font-size="12.5" text-anchor="end" textLength="21.5" lengthAdjust="spacing" class="s">358</text>
<text x="8.6" y="825.0" font-size="12.5" textLength="17.8" lengthAdjust="spacing" class="s">CA</text>
<text x="116.1" y="825.0" font-size="12.5" text-anchor="end" textLength="21.5" lengthAdjust="spacing" class="s">255</text>
<text x="212.4" y="825.0" font-size="12.5" text-anchor="end" textLength="21.5" lengthAdjust="spacing" class="s">169</text>
<text x="307.4" y="825.0" font-size="12.5" text-anchor="end" textLength="20.5" lengthAdjust="spacing" class="s">119</text>
<text x="401.6" y="825.0" font-size="12.5" text-anchor="end" textLength="14.3" lengthAdjust="spacing" class="s">95</text>
<text x="499.3" y="825.0" font-size="12.5" text-anchor="end" textLength="14.3" lengthAdjust="spacing" class="s">73</text>
<text x="8.6" y="840.4" font-size="12.5" textLength="55.3" lengthAdjust="spacing" class="s">CA unfav</text>
<text x="116.1" y="840.4" font-size="12.5" text-anchor="end" textLength="21.5" lengthAdjust="spacing" class="s">232</text>
<text x="212.4" y="840.4" font-size="12.5" text-anchor="end" textLength="21.5" lengthAdjust="spacing" class="s">128</text>
<text x="307.4" y="840.4" font-size="12.5" text-anchor="end" textLength="14.3" lengthAdjust="spacing" class="s">96</text>
<text x="401.6" y="840.4" font-size="12.5" text-anchor="end" textLength="14.3" lengthAdjust="spacing" class="s">71</text>
<text x="499.3" y="840.4" font-size="12.5" text-anchor="end" textLength="14.3" lengthAdjust="spacing" class="s">53</text>
<text x="8.6" y="855.8" font-size="12.5" textLength="41.2" lengthAdjust="spacing" class="s">CA MK</text>
<text x="116.1" y="855.8" font-size="12.5" text-anchor="end" textLength="21.5" lengthAdjust="spacing" class="s">107</text>
<text x="212.4" y="855.8" font-size="12.5" text-anchor="end" textLength="14.3" lengthAdjust="spacing" class="s">25</text>
<text x="307.4" y="855.8" font-size="12.5" text-anchor="end" textLength="14.3" lengthAdjust="spacing" class="s">15</text>
<text x="401.6" y="855.8" font-size="12.5" text-anchor="end" textLength="13.4" lengthAdjust="spacing" class="s">11</text>
<text x="499.3" y="855.8" font-size="12.5" text-anchor="end" textLength="7.2" lengthAdjust="spacing" class="s">9</text>
</svg>
</body></html>
